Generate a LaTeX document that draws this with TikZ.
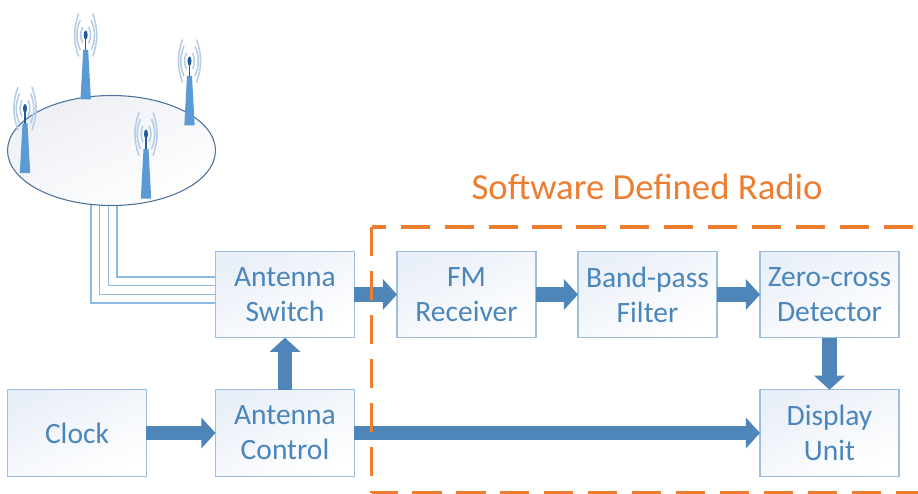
\documentclass[tikz,border=0pt]{standalone}
\usepackage{fontspec}
\setmainfont{Carlito}
\usetikzlibrary{arrows.meta,shapes.geometric}
\definecolor{boxline}{HTML}{9CBFDF}
\definecolor{boxfill}{HTML}{E9EFF8}
\definecolor{boxtext}{HTML}{4A86BC}
\definecolor{flowblue}{HTML}{4E86B9}
\definecolor{feedblue}{HTML}{8DB9E2}
\definecolor{sdrorange}{HTML}{ED7D31}
\definecolor{towerblue}{HTML}{5B9BD5}
\definecolor{waveblue}{HTML}{B5CEE6}
\definecolor{tipblue}{HTML}{1F5C99}
\definecolor{fieldline}{HTML}{4A7099}
\definecolor{fieldfill}{HTML}{EDEFF4}
\tikzset{
  block/.style={draw=boxline,line width=.8pt,shade,top color=boxfill,bottom color=white,shading angle=25,
    text=boxtext,minimum width=2.78cm,minimum height=1.73cm,outer sep=0pt,align=center,
    font=\fontsize{16.8}{19.8}\selectfont},
  flow/.style={draw=flowblue,line width=8.5pt,-{Triangle[length=8pt,width=17pt]}},
  feed/.style={draw=feedblue,line width=.8pt},
  sdrline/.style={draw=sdrorange,line width=2pt,dash pattern=on 16.6pt off 8.4pt},
  tower/.pic={
    % waves
    \foreach \wx/\wy/\wb in {7/21.5/19,5.5/15/22,3/8/25}{
      \draw[waveblue,line width=.9pt] (-\wx,-\wy) to [bend right=\wb] (-\wx,\wy);
      \draw[waveblue,line width=.9pt] (\wx,-\wy) to [bend left=\wb] (\wx,\wy);
    }
    % mast
    \draw[tipblue,line width=.6pt] (0,0) -- (0,16);
    \fill[tipblue] (0,0) ellipse (2 and 4.5);
    \fill[towerblue] (-2.5,15) -- (2.5,15) -- (5.2,64.5) -- (-5.2,64.5) -- cycle;
  }
}
\begin{document}
\begin{tikzpicture}[x=.02cm,y=-.02cm]
    \useasboundingbox (0,0) rectangle (918,493);
    % feed lines begin
    \coordinate (feeda) at (91,203);
    \coordinate (feedb) at (99.7,203);
    \coordinate (feedc) at (108.3,203);
    \coordinate (feedd) at (117,203);
    \coordinate (porta) at (215,303);
    \coordinate (portb) at (215,294.5);
    \coordinate (portc) at (215,285.7);
    \coordinate (portd) at (215,277);
    \foreach \n in {a,b,c,d}
      \draw[feed] (feed\n) |- (port\n);
    % feed lines end
    % field begin
    \node[ellipse,draw=fieldline,line width=.6pt,shade,top color=fieldfill,bottom color=white,shading angle=25,
      minimum width=4.16cm,minimum height=2.2cm,inner sep=0pt] (field) at (111.5,150.5) {};
    \pic at (85.7,35) {tower};
    \pic at (189.5,61) {tower};
    \pic at (25,108.5) {tower};
    \pic at (146,134) {tower};
    % field end
    \node[block] (switch) at (285,294.5) {Antenna\\Switch};
    \node[block] (control) at (285,433) {Antenna\\Control};
    \node[block] (clock) at (77,433) {Clock};
    \node[block] (receiver) at (466.5,294.5) {FM\\Receiver};
    \node[block] (filter) at (647.5,294.5) {Band-pass\\Filter};
    \node[block] (detector) at (829.5,294.5) {Zero-cross\\Detector};
    \node[block] (display) at (829.5,433) {Display\\Unit};
    \draw[flow] (clock) -- (control);
    \draw[flow] (control) -- (switch);
    \draw[flow] (control) -- (display);
    \draw[flow] (switch) -- (receiver);
    \draw[flow] (receiver) -- (filter);
    \draw[flow] (filter) -- (detector);
    \draw[flow] (detector) -- (display);
    % software part begin
    \coordinate (sdrtl) at (371.5,227);
    \coordinate (sdrtr) at (918,227);
    \coordinate (sdrbl) at (371.5,493);
    \coordinate (sdrbr) at (918,493);
    \draw[sdrline,dash phase=8.4pt] (sdrtl) -- (sdrtr);
    \draw[sdrline] (sdrtl) -- (sdrbl);
    \draw[sdrline,dash phase=1.7pt] (sdrbl) -- (sdrbr);
    \node[text=sdrorange,font=\fontsize{20.9}{25}\selectfont] (sdrtitle) at (647,187) {Software Defined Radio};
    % software part end
\end{tikzpicture}
\end{document}
